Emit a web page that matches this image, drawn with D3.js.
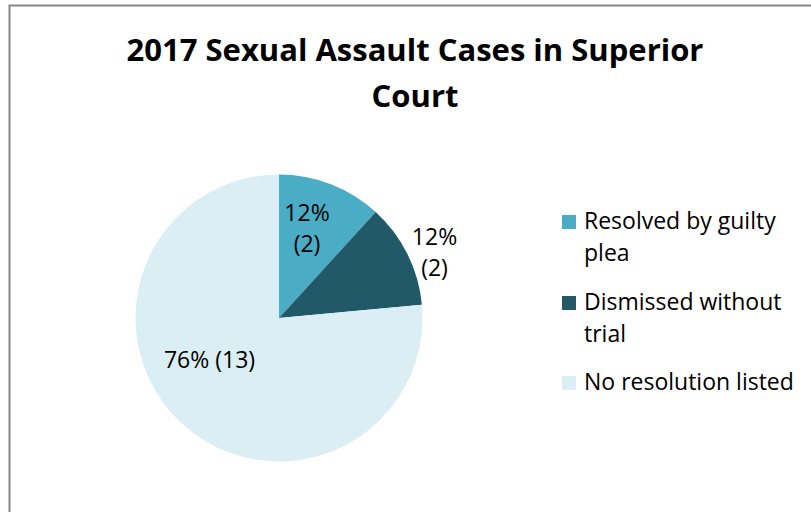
<!DOCTYPE html>
<html><head><meta charset="utf-8">
<script src="https://cdn.jsdelivr.net/npm/d3@7"></script>
<style>body{margin:0;background:#fff;} svg{display:block;font-family:"Open Sans", Lato, sans-serif;}</style>
</head><body>
<svg id="c" width="811" height="512"></svg>
<script>
const categories = ["Resolved by guilty plea", "Dismissed without trial", "No resolution listed"];
const values = [2, 2, 13];
const colors = ["#4BACC6", "#215968", "#DAEEF3"];
const legendLines = [["Resolved by guilty", "plea"], ["Dismissed without", "trial"], ["No resolution listed"]];
const titleLines = ["2017 Sexual Assault Cases in Superior", "Court"];

const svg = d3.select("#c");
svg.append("rect").attr("x", 9.5).attr("y", 5.5).attr("width", 820).attr("height", 520)
  .attr("fill", "#fff").attr("stroke", "#868686").attr("stroke-width", 2);

svg.append("text").attr("text-anchor", "middle").attr("font-weight", "bold").attr("font-size", 31)
  .attr("fill", "#000")
  .selectAll("tspan").data(titleLines).join("tspan")
  .attr("x", 415).attr("y", (d, i) => 61 + i * 46).text(d => d);

const cx = 279, cy = 318, r = 143.5;
const total = d3.sum(values);
const pie = d3.pie().sort(null).value(d => d)(values);
const arc = d3.arc().innerRadius(0).outerRadius(r);
const g = svg.append("g").attr("transform", `translate(${cx},${cy})`);
g.selectAll("path").data(pie).join("path").attr("d", arc).attr("fill", (d, i) => colors[i]);

const pct = v => Math.round(v / total * 100) + "%";
const labelPos = [[28, -97], [155.5, -73], [-69.5, 50]];
const labels = [
  [pct(values[0]), `(${values[0]})`],
  [pct(values[1]), `(${values[1]})`],
  [`${pct(values[2])} (${values[2]})`]
];
labels.forEach((lines, i) => {
  const t = g.append("text").attr("text-anchor", "middle").attr("font-size", 23).attr("fill", "#000");
  lines.forEach((l, j) => t.append("tspan").attr("x", labelPos[i][0]).attr("y", labelPos[i][1] + j * 31).text(l));
});

const lg = svg.append("g");
const legendY = [215, 296, 376];
legendLines.forEach((lines, i) => {
  lg.append("rect").attr("x", 562).attr("y", legendY[i]).attr("width", 14).attr("height", 14).attr("fill", colors[i]);
  const t = lg.append("text").attr("font-size", 23).attr("fill", "#000");
  lines.forEach((l, j) => t.append("tspan").attr("x", 584).attr("y", legendY[i] + 14 + j * 32).text(l));
});
</script>
</body></html>
